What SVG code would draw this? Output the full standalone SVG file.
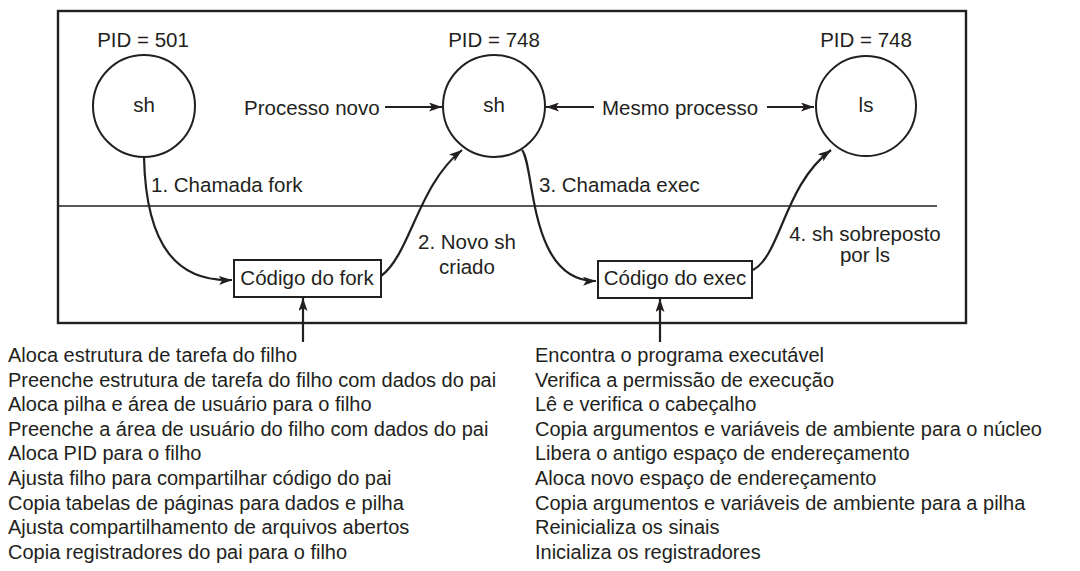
<svg xmlns="http://www.w3.org/2000/svg" width="1080" height="571" viewBox="0 0 1080 571">
<style>
text{font-family:"Liberation Sans",Arial,sans-serif;font-size:20.5px;fill:#231f20}
.list text{font-size:20px}
.mid{text-anchor:middle}
.ln{fill:none;stroke:#231f20;stroke-width:2.2}
.thin{fill:none;stroke:#231f20;stroke-width:1.6}
.node{fill:#fff;stroke:#231f20;stroke-width:2}
</style>
<defs>
<marker id="ah" viewBox="0 0 13 9" refX="13" refY="4.5" markerWidth="13" markerHeight="9" markerUnits="userSpaceOnUse" orient="auto-start-reverse">
<path d="M0,0 L13,4.5 L0,9 L3,4.5 Z" fill="#231f20"/>
</marker>
</defs>
<g id="frame">
<rect x="58" y="11" width="908" height="312" fill="none" stroke="#231f20" stroke-width="2.4"/>
<line x1="58" y1="206" x2="937" y2="206" class="thin"/>
</g>
<g id="connectors">
<path class="ln" d="M144,157 C146,250 180,282 232,280" marker-end="url(#ah)"/>
<path class="ln" d="M381,276 C410,255 418,185 462,150" marker-end="url(#ah)"/>
<path class="ln" d="M522,150 C535,165 528,282 596,281" marker-end="url(#ah)"/>
<path class="ln" d="M753,270 C781,255 784,185 831,150" marker-end="url(#ah)"/>
<line class="ln" x1="385" y1="107" x2="442" y2="107" marker-end="url(#ah)"/>
<line class="ln" x1="594" y1="107" x2="546" y2="107" marker-end="url(#ah)"/>
<line class="ln" x1="767" y1="107" x2="814" y2="107" marker-end="url(#ah)"/>
<line class="ln" x1="303" y1="342" x2="303" y2="298" marker-end="url(#ah)"/>
<line class="ln" x1="660" y1="342" x2="660" y2="299" marker-end="url(#ah)"/>
</g>
<g id="node-sh501">
<text class="mid" x="143" y="47">PID = 501</text>
<circle class="node" cx="144" cy="106" r="51"/>
<text class="mid" x="144" y="112">sh</text>
</g>
<g id="node-sh748">
<text class="mid" x="494" y="47">PID = 748</text>
<circle class="node" cx="494" cy="106" r="51"/>
<text class="mid" x="494" y="112">sh</text>
</g>
<g id="node-ls748">
<text class="mid" x="866" y="47">PID = 748</text>
<circle class="node" cx="866" cy="106" r="50"/>
<text class="mid" x="866" y="112">ls</text>
</g>
<g id="node-fork">
<rect class="node" x="234" y="260" width="147" height="37"/>
<text class="mid" x="307" y="285">Código do fork</text>
</g>
<g id="node-exec">
<rect class="node" x="598" y="261" width="154" height="37"/>
<text class="mid" x="675" y="285">Código do exec</text>
</g>
<g id="labels">
<text x="244" y="115">Processo novo</text>
<text x="602" y="115">Mesmo processo</text>
<text x="151" y="192">1. Chamada fork</text>
<text x="539" y="192">3. Chamada exec</text>
<text class="mid" x="467" y="249">2. Novo sh</text>
<text class="mid" x="467" y="274">criado</text>
<text class="mid" x="865" y="241">4. sh sobreposto</text>
<text class="mid" x="865" y="262">por ls</text>
</g>
<g id="fork-steps" class="list">
<text x="8" y="362">Aloca estrutura de tarefa do filho</text>
<text x="8" y="386.6">Preenche estrutura de tarefa do filho com dados do pai</text>
<text x="8" y="411.2">Aloca pilha e área de usuário para o filho</text>
<text x="8" y="435.8">Preenche a área de usuário do filho com dados do pai</text>
<text x="8" y="460.4">Aloca PID para o filho</text>
<text x="8" y="485">Ajusta filho para compartilhar código do pai</text>
<text x="8" y="509.6">Copia tabelas de páginas para dados e pilha</text>
<text x="8" y="534.2">Ajusta compartilhamento de arquivos abertos</text>
<text x="8" y="558.8">Copia registradores do pai para o filho</text>
</g>
<g id="exec-steps" class="list">
<text x="535" y="362">Encontra o programa executável</text>
<text x="535" y="386.6">Verifica a permissão de execução</text>
<text x="535" y="411.2">Lê e verifica o cabeçalho</text>
<text x="535" y="435.8">Copia argumentos e variáveis de ambiente para o núcleo</text>
<text x="535" y="460.4">Libera o antigo espaço de endereçamento</text>
<text x="535" y="485">Aloca novo espaço de endereçamento</text>
<text x="535" y="509.6">Copia argumentos e variáveis de ambiente para a pilha</text>
<text x="535" y="534.2">Reinicializa os sinais</text>
<text x="535" y="558.8">Inicializa os registradores</text>
</g>
</svg>
